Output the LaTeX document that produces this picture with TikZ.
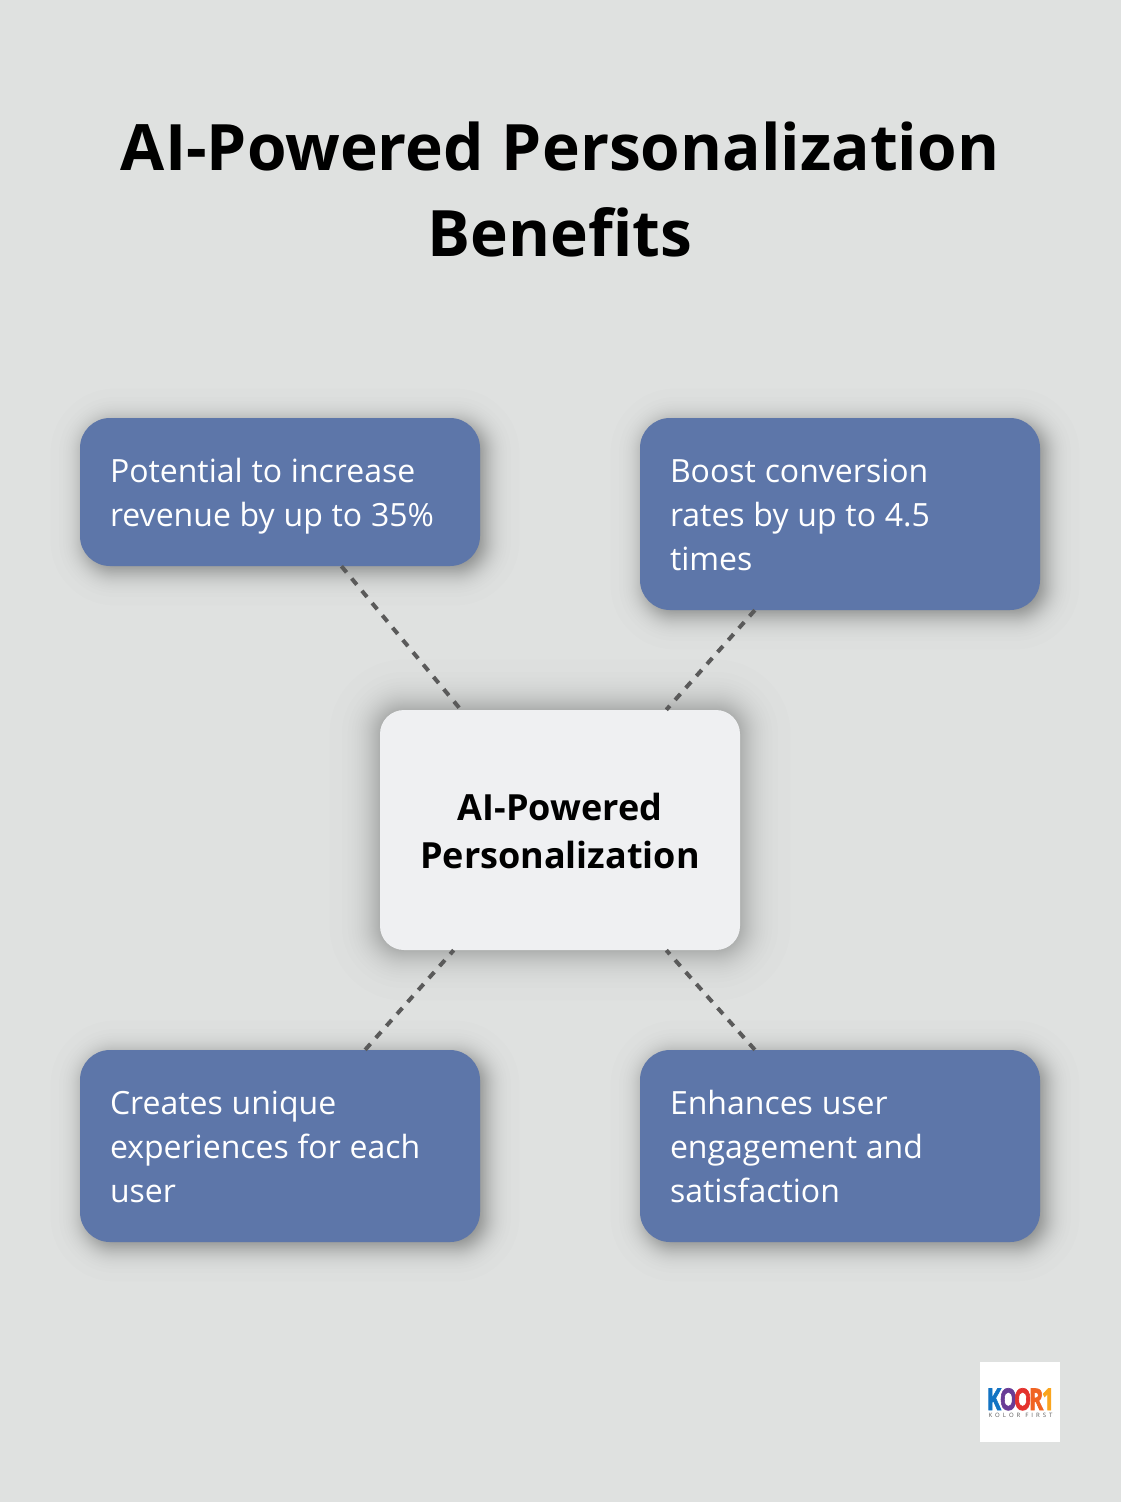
\documentclass[tikz,border=0pt]{standalone}
\usepackage{fontspec}
\setmainfont[BoldFeatures={WordSpace=1.08}]{Open Sans}
\newfontfamily\logofont[BoldFeatures={FakeBold=2.5}]{Open Sans}
\definecolor{bgc}{HTML}{DFE1E0}
\definecolor{bluebox}{HTML}{5D76A9}
\definecolor{centerbox}{HTML}{EFF0F2}
\definecolor{dashc}{HTML}{5A5A5A}
\definecolor{lk}{RGB}{18,115,195}
\definecolor{lo}{RGB}{105,60,150}
\definecolor{lp}{RGB}{228,50,45}
\definecolor{lr}{RGB}{240,100,35}
\definecolor{lone}{RGB}{250,165,30}
% x1 y1 x2 y2 scale layers opacity radius
\newcommand{\softshadow}[8]{%
 \foreach \i in {1,...,#6}{%
  \pgfmathsetmacro{\tt}{(\i-0.5)/#6}%
  \pgfmathsetmacro{\gr}{#5*ln((1-\tt)/\tt)}%
  \pgfmathsetmacro{\rr}{max(1,#8+\gr)}%
  \fill[black,fill opacity=#7,rounded corners=\rr pt] (#1-\gr,#2-\gr) rectangle (#3+\gr,#4+\gr);%
 }}
\newcommand{\bstrut}{\rule[-10pt]{0pt}{44pt}}
\newcommand{\hstrut}{\rule[-10pt]{0pt}{48pt}}
\tikzset{
 x=1pt,y=-1pt,
 benefit/.style={fill=bluebox,rounded corners=30pt,minimum width=400pt,inner sep=0pt,text=white,align=left,text width=340pt,font=\fontsize{32}{44}\selectfont,execute at begin node={\spaceskip=8.8pt\relax}},
 hub/.style={fill=centerbox,rounded corners=24pt,minimum width=360pt,minimum height=240pt,inner sep=0pt,align=center,font=\fontsize{36}{48}\selectfont\bfseries},
 link/.style={draw=dashc,line width=4pt,dash pattern=on 8pt off 8pt}
}
\begin{document}
\begin{tikzpicture}
\useasboundingbox (0,0) rectangle (1120,1502);
\fill[bgc] (-5,-5) rectangle (1125,1507);
\softshadow{85}{423}{485}{571}{7.5}{50}{0.0095}{30}
\softshadow{645}{423}{1045}{615}{7.5}{50}{0.0095}{30}
\softshadow{85}{1055}{485}{1247}{7.5}{50}{0.0095}{30}
\softshadow{645}{1055}{1045}{1247}{7.5}{50}{0.0095}{30}
\softshadow{380}{710}{740}{950}{11}{50}{0.006}{24}
\node (title) at (560,189.5) [align=center,font=\fontsize{64}{86}\selectfont\bfseries] {AI-Powered Personalization\\Benefits};
\node[benefit,minimum height=148pt] (revenue) at (280,492) {\bstrut Potential to increase\\\bstrut revenue by up to 35\%};
\node[benefit,minimum height=192pt] (conversion) at (840,514) {\bstrut Boost conversion\\\bstrut rates by up to 4.5\\\bstrut times};
\node[benefit,minimum height=192pt] (unique) at (280,1146) {\bstrut Creates unique\\\bstrut experiences for each\\\bstrut user};
\node[benefit,minimum height=192pt] (engage) at (840,1146) {\bstrut Enhances user\\\bstrut engagement and\\\bstrut satisfaction};
\node[hub] (hub) at (560,830) {\hstrut AI-Powered\\\hstrut Personalization};
\draw[link] (revenue) -- (hub);
\draw[link] (conversion) -- (hub);
\draw[link] (unique) -- (hub);
\draw[link] (engage) -- (hub);
\node[fill=white,minimum width=80pt,minimum height=80pt,inner sep=0pt] (logo) at (1020,1402) {};
\node[inner sep=0pt,anchor=base,xscale=0.72,transform shape,font=\logofont\fontsize{30}{30}\selectfont\bfseries] (logomark) at (1020.5,1410)
 {\textcolor{lk}{K}\kern-2pt\textcolor{lo}{O}\kern-4pt\textcolor{lp}{O}\kern-3pt\textcolor{lr}{R}\kern-2pt\textcolor{lone}{1}};
\node[inner sep=0pt,anchor=base,font=\fontsize{6}{6}\selectfont,text=dashc] (logotag) at (1020.5,1417) {K\,\,\,O\,\,\,L\,\,\,O\,\,\,R\,\,\,\,\,F\,\,\,I\,\,\,R\,\,\,S\,\,\,T};
\end{tikzpicture}
\end{document}
